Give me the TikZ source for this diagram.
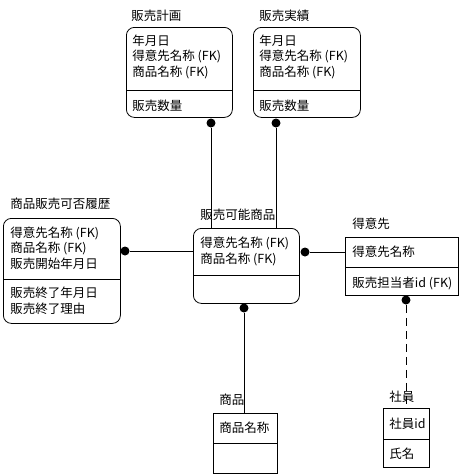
\documentclass[tikz,border=0pt]{standalone}
\usepackage{fontspec}
\setmainfont{Noto Sans CJK JP}

\begin{document}
\begin{tikzpicture}[x=1pt,y=-1pt,line width=0.8pt,
  every node/.style={font=\fontsize{12.5}{15.5}\selectfont,inner sep=0pt},
  ent/.style={draw,rounded corners=8pt,anchor=north west},
  tbl/.style={draw,anchor=north west},
  ttl/.style={anchor=base west},
  txt/.style={anchor=base west,align=left},
  dot/.style={circle,fill,minimum size=9pt}]
\useasboundingbox (0,0) rectangle (463,475);

\node [ttl] (plan-t) at (131,20) {販売計画};
\node [ent,minimum width=106pt,minimum height=90pt] (plan) at (126,27) {};
\node [txt] (plan-k) at (132,76) {年月日\\得意先名称 (FK)\\商品名称 (FK)};
\node [txt] (plan-a) at (132,110) {販売数量};
\draw (126,90) -- (232,90);

\node [ttl] (act-t) at (259,20) {販売実績};
\node [ent,minimum width=107pt,minimum height=90pt] (act) at (253,27) {};
\node [txt] (act-k) at (259,76) {年月日\\得意先名称 (FK)\\商品名称 (FK)};
\node [txt] (act-a) at (259,110) {販売数量};
\draw (253,90) -- (360,90);

\node [ttl] (hist-t) at (10,208) {商品販売可否履歴};
\node [ent,minimum width=117pt,minimum height=105pt] (hist) at (3,218) {};
\node [txt] (hist-k) at (10,268) {得意先名称 (FK)\\商品名称 (FK)\\販売開始年月日};
\node [txt] (hist-a) at (10,313) {販売終了年月日\\販売終了理由};
\draw (3,279) -- (120,279);

\node [ttl] (sale-t) at (200,219) {販売可能商品};
\node [ent,minimum width=106pt,minimum height=75pt] (sale) at (193,228) {};
\node [txt] (sale-k) at (200,263) {得意先名称 (FK)\\商品名称 (FK)};
\draw (193,275) -- (299,275);

\node [ttl] (cust-t) at (352,228) {得意先};
\node [tbl,minimum width=113pt,minimum height=58pt] (cust) at (345,237) {};
\node [txt] (cust-k) at (352,256) {得意先名称};
\node [txt] (cust-a) at (352,287) {販売担当者id (FK)};
\draw (345,267) -- (458,267);

\node [ttl] (prod-t) at (219,404) {商品};
\node [tbl,minimum width=64pt,minimum height=60pt] (prod) at (213,413) {};
\node [txt] (prod-k) at (219,432) {商品名称};
\draw (213,443) -- (277,443);

\node [ttl] (emp-t) at (389,401) {社員};
\node [tbl,minimum width=46pt,minimum height=59pt] (emp) at (383,408) {};
\node [txt] (emp-k) at (389,428) {社員id};
\node [txt] (emp-a) at (389,458) {氏名};
\draw (383,439) -- (429,439);

\node [dot] (plan-fk) at (211,123) {};
\node [dot] (act-fk) at (276,123) {};
\node [dot] (hist-fk) at (125,251) {};
\node [dot] (cust-fk) at (305,252) {};
\node [dot] (prod-fk) at (244,308) {};
\node [dot] (emp-fk) at (406,300) {};
\draw (plan-fk) -- (plan-fk |- sale.north);
\draw (act-fk) -- (act-fk |- sale.north);
\draw (hist-fk) -- (hist-fk -| sale.west);
\draw (cust-fk) -- (cust-fk -| cust.west);
\draw (prod-fk) -- (prod-fk |- prod.north);
\draw [dash pattern=on 8pt off 5pt] (emp-fk) -- (emp-fk |- emp.north);
\end{tikzpicture}
\end{document}
